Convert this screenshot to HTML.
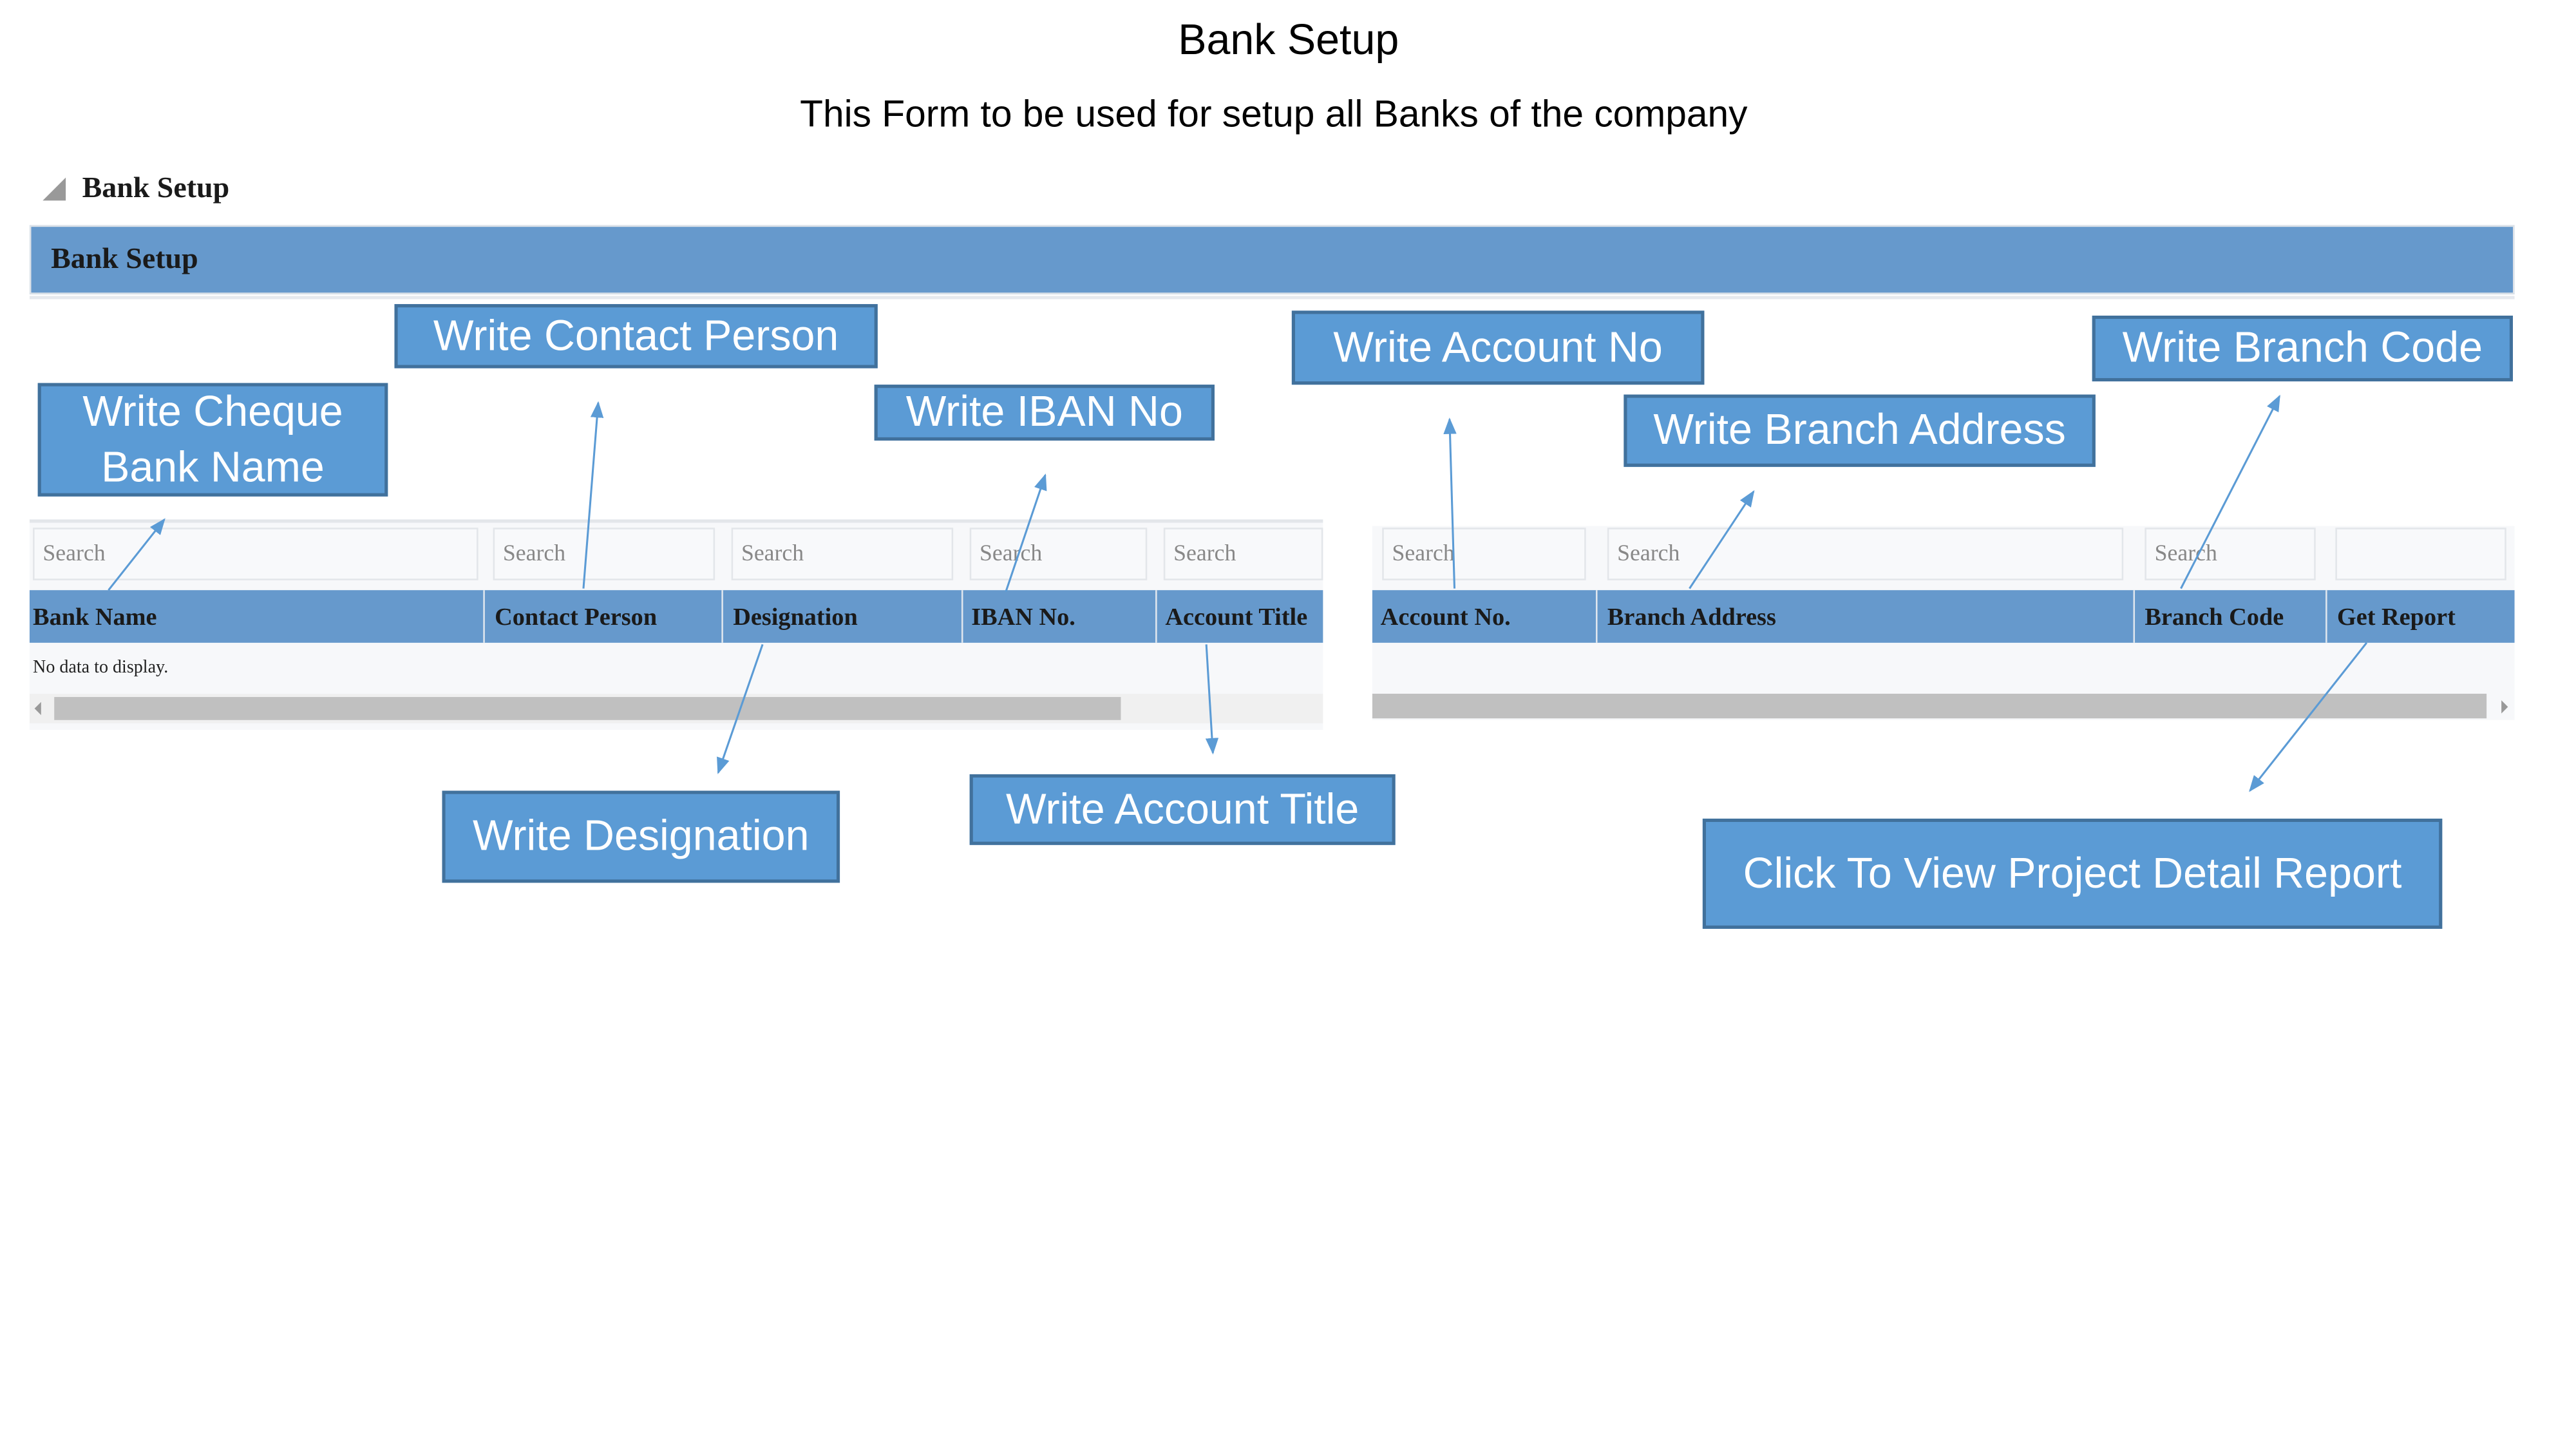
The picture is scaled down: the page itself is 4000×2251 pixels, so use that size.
<!DOCTYPE html>
<html><head><meta charset="utf-8"><style>
html,body{margin:0;padding:0;background:#fff;width:4000px;height:2250px;overflow:hidden}
#w{position:absolute;left:0;top:0;width:1568px;height:882px;transform:scale(2.552);transform-origin:0 0}
.a{position:absolute}
.t{font-family:"Liberation Sans",sans-serif;color:#000;white-space:nowrap}
.s{font-family:"Liberation Serif",serif;font-weight:bold;color:#1a1a1a;white-space:nowrap}
.c{position:absolute;background:#5b9bd5;border:2px solid #41719c;box-sizing:border-box;color:#fff;font-family:"Liberation Sans",sans-serif;text-align:center;display:flex;align-items:center;justify-content:center;white-space:nowrap;line-height:1.3;font-size:26px}
.hd{position:absolute;background:#6699cc;top:359px;height:32px}
.hc{position:absolute;top:0;height:32px;line-height:34px;font-size:15px;padding-left:2px;border-left:1px solid #dfe6ee;box-sizing:border-box}
.sb{position:absolute;top:321px;height:32px;background:#f8f9fb;border:1px solid #e3e6ea;box-sizing:border-box;font-family:"Liberation Serif",serif;color:#888;font-size:14px;line-height:32px;padding-left:5px}
</style></head><body><div id="w">
<div class="a t" style="left:0;width:1568px;top:9px;text-align:center;font-size:26px">Bank Setup</div>
<div class="a t" style="left:0;width:1550px;top:56px;text-align:center;font-size:23px">This Form to be used for setup all Banks of the company</div>
<div class="a" style="left:26px;top:108px;width:0;height:0;border-left:14px solid transparent;border-bottom:14px solid #999"></div>
<div class="a s" style="left:50px;top:104px;font-size:18px">Bank Setup</div>
<div class="a" style="left:18px;top:137px;width:1512px;height:42px;border:1px solid #dde2e8;box-sizing:border-box;background:#6699cc"></div>
<div class="a s" style="left:31px;top:147px;font-size:18px">Bank Setup</div>
<div class="a" style="left:18px;top:180px;width:1512px;height:2px;background:#e6e9ee"></div>

<div class="a" style="left:18px;top:316px;width:787px;height:126px;background:#f7f8fa;border-top:2px solid #e3e6ea"></div>
<div class="sb" style="left:20px;width:271px">Search</div>
<div class="sb" style="left:300px;width:135px">Search</div>
<div class="sb" style="left:445px;width:135px">Search</div>
<div class="sb" style="left:590px;width:108px">Search</div>
<div class="sb" style="left:708px;width:97px">Search</div>
<div class="hd" style="left:18px;width:787px">
<div class="hc s" style="left:0;border:0">Bank Name</div>
<div class="hc s" style="left:276px;padding-left:6px">Contact Person</div>
<div class="hc s" style="left:421px;padding-left:6px">Designation</div>
<div class="hc s" style="left:567px;padding-left:5px">IBAN No.</div>
<div class="hc s" style="left:685px;padding-left:5px">Account Title</div>
</div>
<div class="a" style="left:20px;top:400px;font-family:'Liberation Serif',serif;font-size:11px;color:#222">No data to display.</div>
<div class="a" style="left:18px;top:422px;width:787px;height:18px;background:#f0f0f0"></div>
<div class="a" style="left:33px;top:424px;width:649px;height:14px;background:#c0c0c0"></div>
<div class="a" style="left:21px;top:427px;width:0;height:0;border-top:4px solid transparent;border-bottom:4px solid transparent;border-right:4px solid #999"></div>

<div class="a" style="left:835px;top:320px;width:695px;height:118px;background:#f7f8fa"></div>
<div class="sb" style="left:841px;width:124px">Search</div>
<div class="sb" style="left:978px;width:314px">Search</div>
<div class="sb" style="left:1305px;width:104px">Search</div>
<div class="sb" style="left:1421px;width:104px"></div>
<div class="hd" style="left:835px;width:695px">
<div class="hc s" style="left:0;border:0;padding-left:5px">Account No.</div>
<div class="hc s" style="left:136px;padding-left:6px">Branch Address</div>
<div class="hc s" style="left:463px;padding-left:6px">Branch Code</div>
<div class="hc s" style="left:580px;padding-left:6px">Get Report</div>
</div>
<div class="a" style="left:835px;top:422px;width:678px;height:15px;background:#c0c0c0"></div>
<div class="a" style="left:1522px;top:426px;width:0;height:0;border-top:4px solid transparent;border-bottom:4px solid transparent;border-left:4px solid #999"></div>

<div class="c" style="left:240px;top:185px;width:294px;height:39px">Write Contact Person</div>
<div class="c" style="left:23px;top:233px;width:213px;height:69px">Write Cheque<br>Bank Name</div>
<div class="c" style="left:532px;top:234px;width:207px;height:34px">Write IBAN No</div>
<div class="c" style="left:786px;top:189px;width:251px;height:45px">Write Account No</div>
<div class="c" style="left:988px;top:240px;width:287px;height:44px">Write Branch Address</div>
<div class="c" style="left:1273px;top:192px;width:256px;height:40px">Write Branch Code</div>
<div class="c" style="left:269px;top:481px;width:242px;height:56px">Write Designation</div>
<div class="c" style="left:590px;top:471px;width:259px;height:43px">Write Account Title</div>
<div class="c" style="left:1036px;top:498px;width:450px;height:67px">Click To View Project Detail Report</div>

<svg class="a" style="left:0;top:0" width="1568" height="882">
<defs><marker id="m" markerWidth="10" markerHeight="8" refX="9" refY="4" orient="auto" markerUnits="userSpaceOnUse"><path d="M0,0 L10,4 L0,8 z" fill="#5b9bd5"/></marker></defs>
<g stroke="#5b9bd5" stroke-width="1.2" fill="none" marker-end="url(#m)">
<line x1="66" y1="359" x2="100" y2="316"/>
<line x1="355" y1="358" x2="364" y2="245"/>
<line x1="612" y1="360" x2="636" y2="289"/>
<line x1="464" y1="392" x2="437" y2="470"/>
<line x1="734" y1="392" x2="738" y2="458"/>
<line x1="885" y1="358" x2="882" y2="255"/>
<line x1="1028" y1="358" x2="1067" y2="299"/>
<line x1="1327" y1="358" x2="1387" y2="241"/>
<line x1="1440" y1="391" x2="1369" y2="481"/>
</g></svg>
</div></body></html>
